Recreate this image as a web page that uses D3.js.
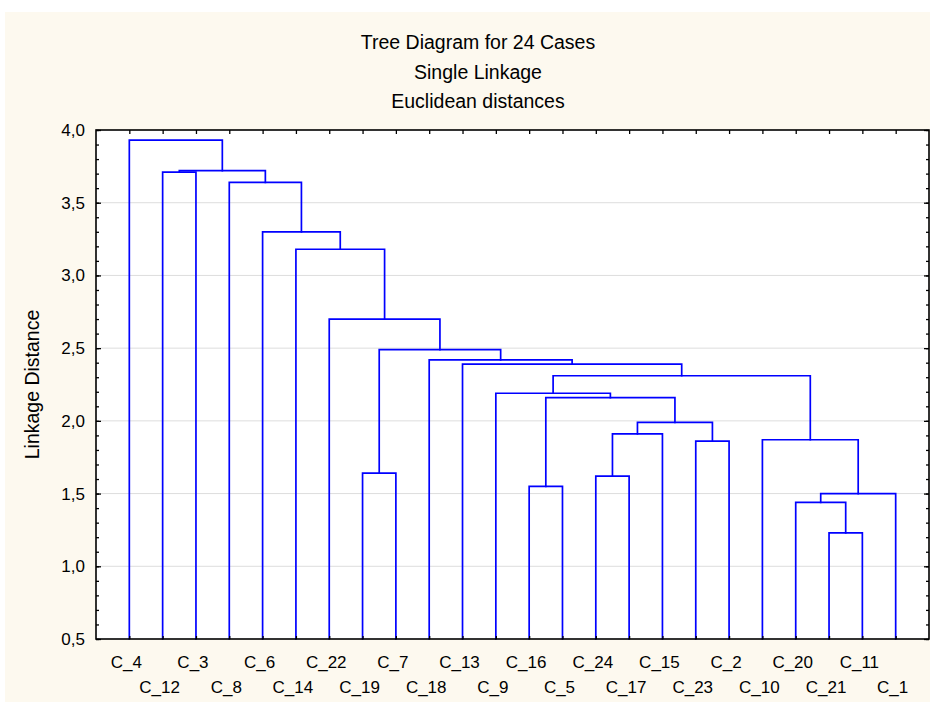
<!DOCTYPE html>
<html>
<head>
<meta charset="utf-8">
<script src="https://cdn.jsdelivr.net/npm/d3@7"></script>
<style>
  html, body { margin: 0; padding: 0; background: #ffffff; }
  svg { display: block; }
  text { font-family: "Liberation Sans", Arial, sans-serif; fill: #000; }
</style>
</head>
<body>
<svg id="chart" width="930" height="702"></svg>
<script>
// ---- data ----
const titleLines = ["Tree Diagram for 24 Cases", "Single Linkage", "Euclidean distances"];
const yAxisTitle = "Linkage Distance";
const leaves = ["C_4","C_12","C_3","C_8","C_6","C_14","C_22","C_19","C_7","C_18","C_13","C_9",
                "C_16","C_5","C_24","C_17","C_15","C_23","C_2","C_10","C_20","C_21","C_11","C_1"];
// merge k joins mergeLeft[k] and mergeRight[k] ("#n" = merge n) at mergeHeight[k]
const mergeLeft   = ["C_21","C_20","#1","C_16","C_24","C_19","C_23","C_10","#4","#8","#3","C_9",
                     "#11","C_13","C_18","#5","C_22","C_14","C_6","C_8","C_12","#20","C_4"];
const mergeRight  = ["C_11","#0","C_1","C_5","C_17","C_7","C_2","#2","C_15","#6","#9","#10",
                     "#7","#12","#13","#14","#15","#16","#17","#18","C_3","#19","#21"];
const mergeHeight = [1.23,1.44,1.50,1.55,1.62,1.64,1.86,1.87,1.91,1.99,2.16,2.19,
                     2.31,2.39,2.42,2.49,2.70,3.18,3.30,3.64,3.71,3.72,3.93];
const yTicks = [0.5,1.0,1.5,2.0,2.5,3.0,3.5,4.0];
const yMinorTicks = d3.range(5, 41).map(v => v / 10);
const yDomain = [0.5, 4.0];

// ---- layout ----
const svg = d3.select("#chart");
const L = 96, R = 929, T = 130, B = 639;
const x = d3.scalePoint().domain(leaves).range([L, R]).padding(1);
const y = d3.scaleLinear().domain(yDomain).range([B, T]);
const fmt = v => d3.format(".1f")(v).replace(".", ",");

// panel background
svg.append("rect").attr("x", 5).attr("y", 12).attr("width", 925).attr("height", 690).attr("fill", "#fdf9ef");
svg.append("rect").attr("x", L).attr("y", T).attr("width", R - L).attr("height", B - T).attr("fill", "#ffffff");

// title
svg.append("g").selectAll("text").data(titleLines).join("text")
  .attr("x", 478).attr("y", (d, i) => 49 + i * 29.5)
  .attr("text-anchor", "middle").attr("font-size", 19.5).text(d => d);

// grid
svg.append("g").selectAll("line").data(yTicks.slice(1, -1)).join("line")
  .attr("x1", L).attr("x2", R).attr("y1", d => y(d)).attr("y2", d => y(d))
  .attr("stroke", "#dddddd").attr("stroke-width", 1);

// dendrogram
const pos = {};
leaves.forEach(n => { pos[n] = { x: x(n), h: yDomain[0] }; });
const paths = [];
mergeHeight.forEach((h, k) => {
  const a = pos[mergeLeft[k]], b = pos[mergeRight[k]];
  paths.push({ a, b, h });
  pos["#" + k] = { x: (a.x + b.x) / 2, h };
});
svg.append("g").selectAll("path").data(paths).join("path")
  .attr("d", d => `M${d.a.x},${y(d.a.h)}V${y(d.h)}H${d.b.x}V${y(d.b.h)}`)
  .attr("fill", "none").attr("stroke", "#0000ff").attr("stroke-width", 1.7)
  .attr("stroke-linejoin", "miter").attr("stroke-linecap", "square");

// axes (ticks inward)
const axStyle = g => { g.select(".domain").remove(); g.selectAll("line").attr("stroke", "#000").attr("stroke-width", 1.3); };
svg.append("g").attr("transform", `translate(${L},0)`)
  .call(d3.axisLeft(y).tickValues(yMinorTicks).tickSize(-3).tickFormat("")).call(axStyle);
svg.append("g").attr("transform", `translate(${L},0)`)
  .call(d3.axisLeft(y).tickValues(yTicks).tickSize(-5).tickPadding(11).tickFormat(fmt))
  .call(axStyle)
  .call(g => g.selectAll("text").attr("font-size", 17).attr("font-family", "Liberation Sans, Arial, sans-serif").attr("fill", "#000"));
svg.append("g").attr("transform", `translate(${R},0)`)
  .call(d3.axisRight(y).tickValues(yMinorTicks).tickSize(-3).tickFormat("")).call(axStyle);
svg.append("g").attr("transform", `translate(${R},0)`)
  .call(d3.axisRight(y).tickValues(yTicks).tickSize(-5).tickFormat("")).call(axStyle);
svg.append("g").attr("transform", `translate(0,${T})`)
  .call(d3.axisTop(x).tickSize(-4).tickFormat("")).call(axStyle);
svg.append("g").attr("transform", `translate(0,${B})`)
  .call(d3.axisBottom(x).tickSize(-3).tickFormat("")).call(axStyle);

// leaf labels, two staggered rows
svg.append("g").selectAll("text").data(leaves).join("text")
  .attr("x", d => x(d) - 3).attr("y", (d, i) => i % 2 === 0 ? 668 : 693)
  .attr("text-anchor", "middle").attr("font-size", 17).text(d => d);

// frame
svg.append("rect").attr("x", L).attr("y", T).attr("width", R - L).attr("height", B - T)
  .attr("fill", "none").attr("stroke", "#000").attr("stroke-width", 1.6);

// y axis title
svg.append("text").attr("transform", `translate(39,${(T + B) / 2}) rotate(-90)`)
  .attr("text-anchor", "middle").attr("font-size", 19.5).text(yAxisTitle);
</script>
</body>
</html>
